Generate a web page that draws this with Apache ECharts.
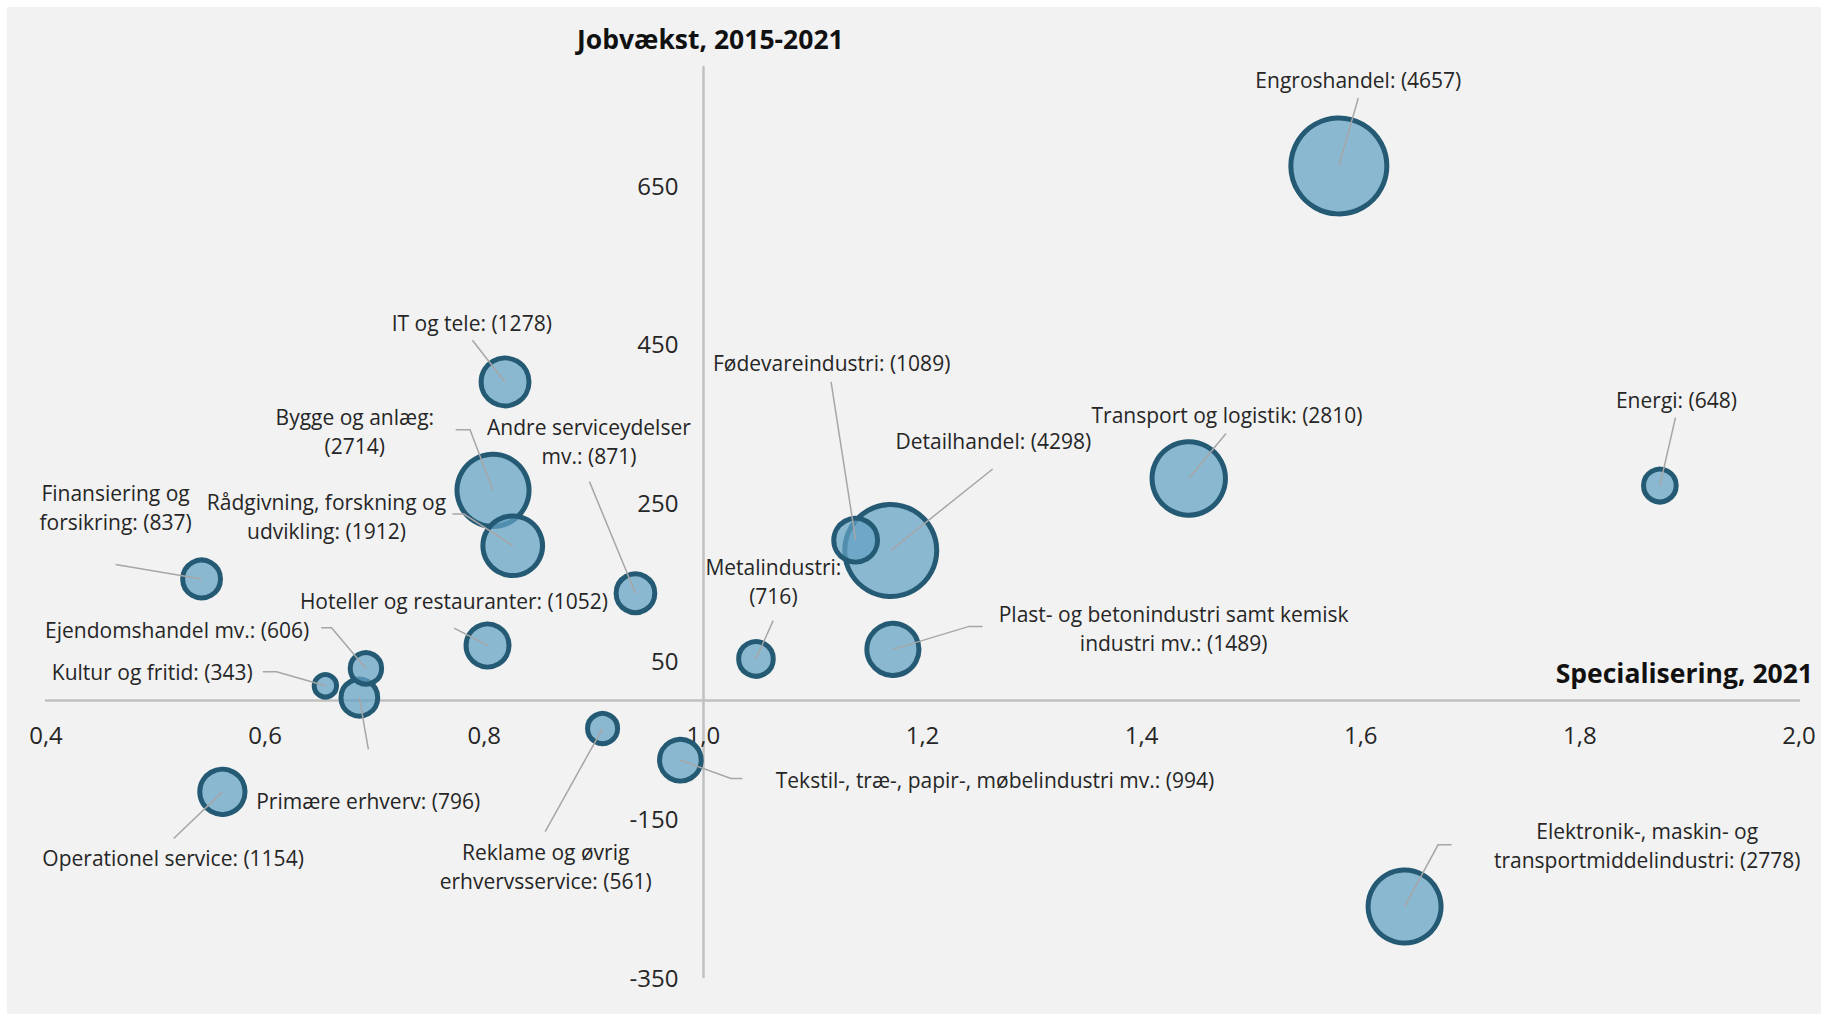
<!DOCTYPE html>
<html>
<head>
<meta charset="utf-8">
<title>Jobvækst og specialisering</title>
<script src="https://cdn.jsdelivr.net/npm/echarts@6/dist/echarts.min.js"></script>
<style>
  html, body { margin: 0; padding: 0; background: #fff; }
  #chart { position: absolute; left: 7px; top: 7px; width: 1814px; height: 1007px; background: #f2f2f2; }
</style>
</head>
<body>
<div id="chart"></div>
<script>
// data (drawing order matters for overlaps)
const industries = [
  'Engroshandel', 'Energi', 'Transport og logistik', 'Detailhandel', 'Fødevareindustri',
  'Metalindustri', 'Plast- og betonindustri samt kemisk\nindustri mv.', 'Tekstil-, træ-, papir-, møbelindustri mv.',
  'Reklame og øvrig\nerhvervsservice', 'Andre serviceydelser\nmv.', 'Hoteller og restauranter', 'Bygge og anlæg',
  'Rådgivning, forskning og\nudvikling', 'IT og tele', 'Finansiering og\nforsikring', 'Kultur og fritid',
  'Primære erhverv', 'Ejendomshandel mv.', 'Operationel service', 'Elektronik-, maskin- og\ntransportmiddelindustri'
];
const specialisering = [1.58, 1.873, 1.443, 1.171, 1.139, 1.048, 1.173, 0.979, 0.908, 0.938, 0.803, 0.808, 0.826, 0.819, 0.542, 0.655, 0.686, 0.692, 0.561, 1.64];
const jobvaekst = [675, 271, 280, 189, 202, 52, 64, -76, -36, 135, 69, 265, 195, 402, 153, 18, 3, 40, -116, -261];
const beskaeftigede = [4657, 648, 2810, 4298, 1089, 716, 1489, 994, 561, 871, 1052, 2714, 1912, 1278, 837, 343, 796, 606, 1154, 2778];
// value goes on a new line for these labels
const breakBeforeValue = [false, false, false, false, false, true, false, false, false, false, false, true, false, false, false, false, false, false, false, false];

const xTicks = [0.4, 0.6, 0.8, 1.0, 1.2, 1.4, 1.6, 1.8, 2.0];
const yTicks = [-350, -150, 50, 250, 450, 650];

// label placement relative to bubble centre (px)
const labelOffsets = [
  [19.5, -86], [16.6, -86], [38.3, -63], [102.6, -109], [-24, -177.5],
  [17.4, -77], [280.7, -21], [314.6, 19.5], [-56.9, 137.8], [-46.5, -151.3],
  [-33.6, -44.3], [-138.2, -59.3], [-186.3, -29.7], [-33.3, -59.3], [-86, -71.2],
  [-173.1, -13.4], [8.8, 103], [-188.8, -38.3], [-49.3, 66.6], [242.6, -60.7]
];
// leader line end relative to bubble centre, plus horizontal stub
const leaderEnds = [
  [19.5, -68, 0], [15.6, -68, 0], [37.3, -45, 0], [102, -81.5, 0], [-24.6, -158.3, 0],
  [17.2, -38.3, 0], [76.2, -23, 13.5], [50.6, 18.3, 11.4], [-57.4, 103, 0], [-46, -111.6, 0],
  [-33.4, -17.3, 0], [-23, -60.7, -14.3], [-48.8, -31.7, -11.5], [-32.7, -41.7, 0], [-86, -14.4, 0],
  [-48.8, -14, -13.7], [9, 51.6, 0], [-34.4, -40.6, -10.3], [-48.7, 46.6, 0], [33.5, -61.7, 13.5]
];

const fontFamily = "'Open Sans', sans-serif";
const textColor = '#262626';
const axisColor = '#c0c0c0';
const borderW = 5;
const maxSize = Math.max(...beskaeftigede);

const gridPos = { left: 39, right: 22, top: 60, bottom: 37 };
const xMin = 0.4, xMax = 2.0, yCross = 1.0;
const yMin = -350, yMax = 800, xCross = 0;
const dom = document.getElementById('chart');
const gridWidth = dom.clientWidth - gridPos.left - gridPos.right;
const gridHeight = dom.clientHeight - gridPos.top - gridPos.bottom;

const chart = echarts.init(dom, null, { renderer: 'svg' });

chart.setOption({
  animation: false,
  backgroundColor: '#f2f2f2',
  grid: { ...gridPos, containLabel: false, outerBoundsMode: 'none' },
  xAxis: {
    type: 'value',
    position: 'bottom',
    min: xMin,
    max: xMax,
    interval: 0.2,
    // move the axis up to y = 0
    offset: -(xCross - yMin) / (yMax - yMin) * gridHeight,
    axisLine: { onZero: false, lineStyle: { color: axisColor, width: 2.5 } },
    axisTick: { show: false },
    splitLine: { show: false },
    axisLabel: {
      margin: 22,
      fontSize: 24,
      fontFamily,
      color: textColor,
      formatter: v => xTicks.some(t => Math.abs(t - v) < 1e-6) ? v.toFixed(1).replace('.', ',') : ''
    }
  },
  yAxis: {
    type: 'value',
    position: 'left',
    min: yMin,
    max: yMax,
    interval: 50,
    // move the axis right to x = 1.0
    offset: -(yCross - xMin) / (xMax - xMin) * gridWidth,
    axisLine: { show: true, onZero: false, lineStyle: { color: axisColor, width: 2.5 } },
    axisTick: { show: false },
    splitLine: { show: false },
    axisLabel: {
      margin: 25,
      fontSize: 24,
      fontFamily,
      color: textColor,
      padding: [0, 0, 5, 0],
      formatter: v => yTicks.includes(Math.round(v)) ? String(v) : ''
    }
  },
  series: [{
    type: 'scatter',
    data: industries.map((n, i) => [specialisering[i], jobvaekst[i], beskaeftigede[i], n]),
    symbolSize: d => 101 * Math.sqrt(d[2] / maxSize) - borderW,
    itemStyle: {
      color: 'rgba(99, 161, 195, 0.72)',
      borderColor: '#245a73',
      borderWidth: borderW,
      opacity: 1
    },
    emphasis: { disabled: true }
  }]
});

// labels, leader lines and axis titles
const graphics = [];
industries.forEach((name, i) => {
  const [cx, cy] = chart.convertToPixel({ seriesIndex: 0 }, [specialisering[i], jobvaekst[i]]);
  const [lx, ly, stub] = leaderEnds[i];
  const pts = [[cx, cy], [cx + lx, cy + ly]];
  if (stub) pts.push([cx + lx + stub, cy + ly]);
  graphics.push({
    type: 'polyline',
    z: 100,
    silent: true,
    shape: { points: pts },
    style: { stroke: '#a6a6a6', lineWidth: 1.5, fill: null }
  });
  const text = name + ':' + (breakBeforeValue[i] ? '\n' : ' ') + '(' + beskaeftigede[i] + ')';
  graphics.push({
    type: 'text',
    z: 100,
    silent: true,
    x: cx + labelOffsets[i][0],
    y: cy + labelOffsets[i][1],
    style: {
      text,
      align: 'center',
      verticalAlign: 'middle',
      fontSize: 21,
      lineHeight: 29,
      fontFamily,
      fill: textColor
    }
  });
});

const [topX, topY] = chart.convertToPixel({ gridIndex: 0 }, [yCross, yMax]);
graphics.push({
  type: 'text',
  z: 100,
  x: topX + 7,
  y: topY - 28,
  style: {
    text: 'Jobvækst, 2015-2021',
    align: 'center',
    verticalAlign: 'middle',
    fontSize: 26.5,
    fontWeight: 'bold',
    fontFamily,
    fill: '#111'
  }
});
const [endX, endY] = chart.convertToPixel({ gridIndex: 0 }, [xMax, xCross]);
graphics.push({
  type: 'text',
  z: 100,
  x: endX + 14,
  y: endY - 27,
  style: {
    text: 'Specialisering, 2021',
    align: 'right',
    verticalAlign: 'middle',
    fontSize: 26.5,
    fontWeight: 'bold',
    fontFamily,
    fill: '#111'
  }
});

chart.setOption({ graphic: graphics });
</script>
</body>
</html>
